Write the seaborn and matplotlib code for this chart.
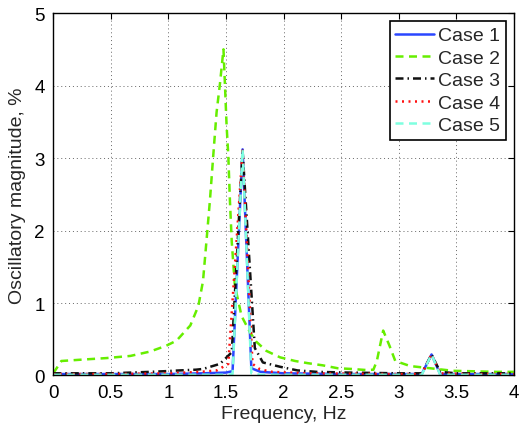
import numpy as np
import pandas as pd
import matplotlib
matplotlib.use("Agg")
import matplotlib.pyplot as plt
import seaborn as sns

# ---- data ----
case1_x = [0, 0.3, 0.6, 1.0, 1.3, 1.5, 1.557, 1.644, 1.72, 1.8, 2.0, 2.5, 3.0, 3.2, 3.285, 3.36, 3.6, 4.0]
case1_y = [0.02, 0.02, 0.02, 0.02, 0.03, 0.04, 0.06, 3.12, 0.10, 0.05, 0.03, 0.02, 0.02, 0.02, 0.29, 0.02, 0.02, 0.02]

case2_x = [0, 0.07, 0.26, 0.46, 0.67, 0.84, 0.98, 1.07, 1.19, 1.26, 1.30, 1.33, 1.36, 1.389, 1.418, 1.447,
           1.478, 1.49, 1.505, 1.52, 1.534, 1.55, 1.577, 1.635, 1.707, 1.76, 1.85, 1.97, 2.10, 2.21, 2.34,
           2.47, 2.59, 2.72, 2.78, 2.81, 2.865, 2.92, 2.97, 3.10, 3.47, 3.85, 4.0]
case2_y = [0.03, 0.20, 0.22, 0.24, 0.27, 0.33, 0.41, 0.48, 0.69, 0.96, 1.30, 1.85, 2.41, 3.03, 3.63, 4.02,
           4.50, 4.04, 3.45, 3.03, 2.41, 1.84, 1.24, 0.82, 0.60, 0.47, 0.34, 0.25, 0.20, 0.17, 0.14,
           0.10, 0.09, 0.075, 0.08, 0.20, 0.62, 0.41, 0.20, 0.13, 0.065, 0.05, 0.05]

case3_x = [0, 0.5, 0.84, 0.98, 1.10, 1.24, 1.30, 1.447, 1.55, 1.644, 1.75, 1.82, 1.97, 2.12, 2.29, 2.57,
           3.0, 3.2, 3.285, 3.36, 3.5, 4.0]
case3_y = [0.03, 0.03, 0.05, 0.06, 0.07, 0.08, 0.09, 0.16, 0.32, 3.10, 0.38, 0.18, 0.12, 0.07, 0.05, 0.04,
           0.03, 0.03, 0.29, 0.05, 0.03, 0.03]

case4_x = [0, 0.5, 1.0, 1.28, 1.42, 1.52, 1.644, 1.73, 1.79, 1.84, 1.90, 2.2, 3.0, 3.2, 3.285, 3.36, 3.6, 4.0]
case4_y = [0.02, 0.02, 0.03, 0.05, 0.07, 0.16, 3.10, 0.16, 0.09, 0.07, 0.05, 0.03, 0.02, 0.02, 0.29, 0.03, 0.02, 0.02]

case5_x = [0, 0.5, 1.0, 1.5, 1.557, 1.644, 1.72, 1.8, 2.5, 3.2, 3.285, 3.36, 3.6, 4.0]
case5_y = [0.01, 0.01, 0.01, 0.01, 0.02, 3.12, 0.03, 0.01, 0.01, 0.01, 0.29, 0.01, 0.01, 0.01]

labels = ["Case 1", "Case 2", "Case 3", "Case 4", "Case 5"]
xticks = [0, 0.5, 1, 1.5, 2, 2.5, 3, 3.5, 4]
xticklabels = ["0", "0.5", "1", "1.5", "2", "2.5", "3", "3.5", "4"]
yticks = [0, 1, 2, 3, 4, 5]

# ---- style ----
sns.set_style("white")
plt.rcParams["font.family"] = ["Liberation Sans", "DejaVu Sans"]

fig = plt.figure(figsize=(5.19, 4.27), dpi=100)
ax = fig.add_axes([0.1027, 0.1183, 0.8874, 0.8487])

series = [
    (case1_x, case1_y, "#2a46ff", "-", None),
    (case2_x, case2_y, "#66ee00", "--", (3.2, 2.2)),
    (case3_x, case3_y, "#111111", "-.", (3.2, 1.6, 0.6, 1.6)),
    (case4_x, case4_y, "#ff1010", ":", (0.8, 1.8)),
    (case5_x, case5_y, "#7fffe0", "--", (3.2, 2.2)),
]
for (xs, ys, col, ls, dash), lab in zip(series, labels):
    sns.lineplot(x=xs, y=ys, ax=ax, color=col, linewidth=1.8, label=lab, sort=False,
                 linestyle=ls)
    if dash is not None:
        ax.lines[-1].set_dashes(dash)

ax.set_xlim(0, 4)
ax.set_ylim(0, 5)
ax.set_xticks(xticks)
ax.set_xticklabels(xticklabels)
ax.set_yticks(yticks)
ax.tick_params(direction="in", top=True, right=True, length=4, width=0.8,
               labelsize=13.5, pad=6, colors="black")
ax.grid(True, linestyle=(0, (1, 3)), color="#666666", linewidth=0.7)
for s in ax.spines.values():
    s.set_visible(True)
    s.set_color("black")
    s.set_linewidth(1.0)

ax.set_xlabel("Frequency, Hz", fontsize=14, labelpad=3)
ax.set_ylabel("Oscillatory magnitude, %", fontsize=14, labelpad=6)

leg = ax.legend(loc="upper right", fontsize=14, frameon=True, fancybox=False,
                handlelength=2.0, handletextpad=0.2, labelspacing=0.25,
                borderpad=0.3, borderaxespad=0.4, framealpha=1)
leg.get_frame().set_edgecolor("black")
leg.get_frame().set_linewidth(1.2)
for h in leg.get_lines():
    h.set_linewidth(1.8)

fig.savefig("out.png", dpi=100)
